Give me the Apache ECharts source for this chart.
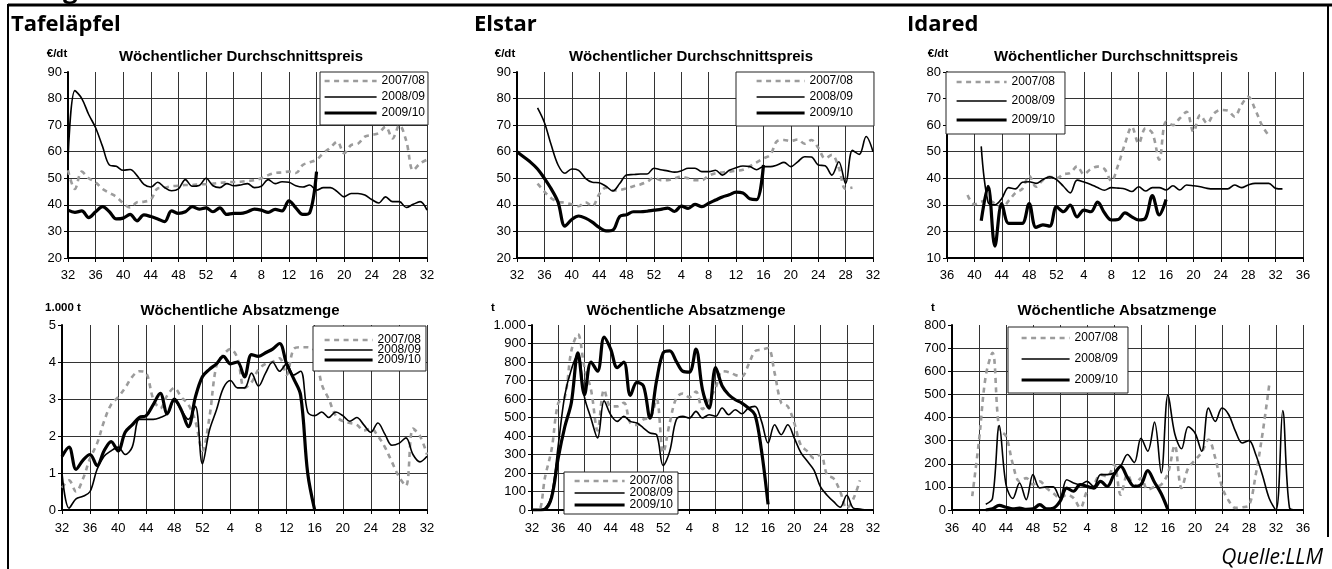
<!DOCTYPE html>
<html><head><meta charset="utf-8">
<script src="https://cdn.jsdelivr.net/npm/echarts@6/dist/echarts.min.js"></script>
<style>html,body{margin:0;padding:0;background:#fff}#c{width:1332px;height:569px}</style>
</head><body><div id="c"></div><script>
// ---- categories (calendar weeks) ----
const weeksTE = [32,33,34,35,36,37,38,39,40,41,42,43,44,45,46,47,48,49,50,51,52,1,2,3,4,5,6,7,8,9,10,11,12,13,14,15,16,17,18,19,20,21,22,23,24,25,26,27,28,29,30,31,32];
const weeksI = [36,37,38,39,40,41,42,43,44,45,46,47,48,49,50,51,52,1,2,3,4,5,6,7,8,9,10,11,12,13,14,15,16,17,18,19,20,21,22,23,24,25,26,27,28,29,30,31,32,33,34,35,36];
const seriesNames = ['2007/08','2008/09','2009/10'];

// ---- Tafeläpfel price (€/dt) ----
const tafelPrice0708 = [53,46,52.5,50,48.5,46,44.5,43,40.6,39,41,41.2,42,46.2,46.5,47,47.2,47.5,47.5,47.7,47.8,48,48.3,48.5,48.6,48.7,49,49.3,50,51.2,52,52.2,52.5,52,55,56,57,59.5,61.5,63.8,59.4,62.5,63,65.7,66.3,67,69.4,65,70,64,53,55.6,57];
const tafelPrice0809 = [57,83,80,74,69,62,55,54.5,53,53.3,51,47.7,46.7,48.5,46.5,45.3,46,49.5,47,47.3,50,47.2,46.5,48,47.2,47.5,48,46.5,47,49.5,48,48.7,48.5,47.2,46.7,47.5,45.5,46.5,46.5,45,43,44.3,44.3,43.7,42,40.7,43,41.2,41.2,39,40.2,41.2,38];
const tafelPrice0910 = [38,37.2,37.7,35.2,37.4,39.3,37.4,34.7,35,36.4,34,36.2,35.6,34.7,33.7,37.7,36.8,37.4,39.3,38.4,38.9,37.4,38.9,36.4,36.8,36.8,37.4,38.4,38,37.2,38.3,37.7,41.5,38.9,36.4,37,52.5];
// ---- Elstar price (€/dt) ----
const elstarPrice0708 = [null,null,null,48,45,42.5,41.2,40.8,40.2,39.5,41,39.5,44,46.5,45.4,45.6,46.2,47,47.7,48.7,50.2,49.3,49.3,50,50.6,50,49.3,49.3,51,51.9,52.2,52.5,52.8,53.2,54.5,56,57.5,58.8,64,64.4,64,64.6,63,64.4,61.5,57.5,58.8,54,46,46.5];
const elstarPrice0809 = [null,null,null,76.5,71,62.5,55,51.9,53.5,53,50,48.5,48.3,47,45.2,48,51.2,51.4,51.6,51.6,53.8,53.2,52.8,52.3,52.8,53.8,53.8,52.5,52.5,53,51.2,53,54,54.6,54.4,53.2,54.4,54.4,55,56,54.4,56.2,58.1,58,55,54.7,51.2,56.2,48,60.5,59,65.7,60];
const elstarPrice0910 = [60,58,56,53.5,50,46,41,32,34.5,35.8,35,33.5,31.5,30.2,30.5,35.6,36.3,37.4,37.4,37.6,38,38.3,38.8,37.5,39.5,38.7,40.2,39.3,40.6,41.8,43,43.8,44.8,44.5,42.3,42,55];
// ---- Idared price (€/dt) ----
const idaredPrice0708 = [null,null,null,33.7,30.2,31.2,31.8,30.5,29,31.5,34.5,36,41,36.8,39.3,40.6,40,41.5,42,44.5,41.5,43.5,44.4,43.5,39,45,53,59.4,53.1,58.8,57,47,61.3,60,62.6,65,57.5,63.8,60.7,64.4,65.7,65.5,63.2,67.6,70.7,66,60,56];
const idaredPrice0809 = [null,null,null,null,null,52,31,30,32.4,36.5,36,38.5,38.7,38.1,39.5,40.6,39.5,37,34.5,39.3,38.6,37.7,36.5,35.5,36.5,36.3,36,35,36.8,35.2,36.5,36.5,35.6,37.2,35.6,37.5,37.2,36.8,36.2,36,36,36,37.5,36.5,37.5,38.1,38.1,38.1,36.2,36];
const idaredPrice0910 = [null,null,null,null,null,24,37,14.5,30.5,23,23,23,30.5,21.5,22.5,22,29.3,27.4,29.9,25.5,28,27.4,31,27,24.3,24.5,27,25.5,24.3,25,33.5,26.2,32];
// ---- Tafeläpfel volume (1.000 t) ----
const tafelVol0708 = [0.6,0.8,0.5,0.85,1.4,1.8,2.4,2.85,3.05,3.3,3.6,3.75,3.7,3.0,2.75,3.1,3.3,3.05,2.85,2.4,1.6,2.5,3.9,4.2,4.35,4.1,3.3,3.45,3.8,3.95,4.0,4.1,3.65,4.35,4.4,4.4,4.3,3.4,3.0,2.55,2.4,2.35,2.3,2.15,2.2,2.0,1.7,1.3,0.9,0.65,2.2,2.0,1.5];
const tafelVol0809 = [1.0,0.05,0.3,0.37,0.5,1.1,1.45,1.6,1.7,1.5,1.7,2.45,2.45,2.45,2.5,2.6,2.95,2.7,2.45,2.8,1.25,2.15,2.7,3.3,3.5,3.3,3.3,3.7,3.35,3.7,4.0,3.75,3.95,3.65,3.75,2.65,2.55,2.65,2.5,2.65,2.55,2.4,2.5,2.3,2.1,2.35,2.05,1.75,1.8,1.95,1.5,1.3,1.45];
const tafelVol0910 = [1.45,1.7,1.1,1.35,1.5,1.2,1.6,1.85,1.6,2.1,2.3,2.5,2.55,2.85,3.15,2.6,3,2.7,2.25,3.05,3.6,3.8,3.95,4.15,3.95,4,3.6,4.2,4.15,4.25,4.35,4.5,3.95,3.55,3.1,1.0,0];
// ---- Elstar volume (t) ----
const elstarVol0708 = [0,0,180,330,578,610,860,950,770,650,430,650,560,560,580,470,460,490,497,600,310,470,605,630,610,640,545,600,660,750,745,730,722,785,858,867,876,740,580,560,470,350,317,280,300,190,170,100,10,60,160];
const elstarVol0809 = [0,0,10,83,350,620,760,840,610,495,389,590,515,479,506,479,470,443,416,407,240,317,488,506,497,533,497,515,506,551,515,542,520,551,560,479,362,461,407,461,389,310,263,215,125,80,45,15,80,10,5,0];
const elstarVol0910 = [0,0,5,70,281,450,580,850,623,800,750,935,870,770,800,620,690,670,497,700,849,860,804,750,745,870,650,551,770,670,623,596,578,551,515,320,30];
// ---- Idared volume (t) ----
const idaredVol0708 = [null,null,null,60,300,580,680,350,320,200,124,138,110,124,95,73,52,66,52,9,81,110,153,145,196,66,153,102,138,88,100,110,160,280,95,182,215,250,305,225,100,40,9,12,20,153,330,542];
const idaredVol0809 = [null,null,null,null,null,25,50,365,110,50,117,45,153,95,100,100,52,131,117,110,124,102,153,153,160,190,240,205,310,254,380,160,498,330,265,360,333,254,441,383,441,412,340,290,300,240,150,50,0,430,9,0];
const idaredVol0910 = [null,null,null,null,null,0,5,20,12,5,8,3,5,23,5,8,37,95,81,110,102,95,124,102,153,189,140,102,110,170,120,70,0];

const FONT = '"Liberation Sans", Arial, sans-serif';
const panels = [
  {grid:{left:68,top:72,width:359,height:186}, cats:weeksTE, y:[20,90,10], m:11, data:[tafelPrice0708,tafelPrice0809,tafelPrice0910],
   lg:{left:320,top:72,padding:[2,3,5,3],iw:52,lh:14,gap:2}},
  {grid:{left:517,top:72,width:356,height:186}, cats:weeksTE, y:[20,90,10], m:11, data:[elstarPrice0708,elstarPrice0809,elstarPrice0910],
   lg:{left:736,top:72,padding:[2,21,6,19],iw:48,lh:14,gap:2}},
  {grid:{left:947,top:72,width:356,height:186}, cats:weeksI, y:[10,80,10], m:11, data:[idaredPrice0708,idaredPrice0809,idaredPrice0910],
   lg:{left:946,top:72,padding:[3,10,7,9],iw:50,lh:14,gap:5}},
  {grid:{left:62,top:325,width:365,height:185}, cats:weeksTE, y:[0,5,1], m:12, data:[tafelVol0708,tafelVol0809,tafelVol0910],
   lg:{left:313,top:326,padding:[8,5,5,10],iw:48,lh:9.5,gap:-2}},
  {grid:{left:532,top:325,width:341,height:185}, cats:weeksTE, y:[0,1000,100], m:12, data:[elstarVol0708,elstarVol0809,elstarVol0910],
   lg:{left:564,top:472,padding:[3,5,3,9],iw:50,lh:11,gap:0}},
  {grid:{left:952,top:325,width:351,height:185}, cats:weeksI, y:[0,800,100], m:12, data:[idaredVol0708,idaredVol0809,idaredVol0910],
   lg:{left:1008,top:327,padding:[4,10,6,12],iw:48,lh:14,gap:7}}
];
const styles = [
  {color:'#9c9c9c', width:2.6, type:[5,4.5]},
  {color:'#000', width:1.6, type:'solid'},
  {color:'#000', width:3.2, type:'solid'}
];
const fmtNum = v => v >= 1000 ? String(v).replace(/(\d)(?=(\d{3})+$)/g,'$1.') : String(v);

const grid=[], xAxis=[], yAxis=[], series=[], legend=[];
panels.forEach((p,k)=>{
  grid.push(p.grid);
  xAxis.push({type:'category', gridIndex:k, data:p.cats, boundaryGap:false,
    axisLine:{show:true, onZero:false, lineStyle:{color:'#000', width:2}},
    axisTick:{show:true, interval:3, length:4, lineStyle:{color:'#000', width:1}},
    axisLabel:{interval:3, fontSize:13, color:'#000', fontFamily:FONT, margin:p.m},
    splitLine:{show:true, interval:3, lineStyle:{color:'#333', width:1}}});
  yAxis.push({type:'value', gridIndex:k, min:p.y[0], max:p.y[1], interval:p.y[2],
    axisLine:{show:true, lineStyle:{color:'#000', width:2}},
    axisTick:{show:true, length:4, lineStyle:{color:'#000', width:1}},
    axisLabel:{fontSize:13, color:'#000', fontFamily:FONT, margin:6, formatter:fmtNum},
    splitLine:{show:true, showMaxLine:false, lineStyle:{color:'#333', width:1}}});
  p.data.forEach((arr,j)=>{
    series.push({type:'line', name:seriesNames[j], xAxisIndex:k, yAxisIndex:k, data:arr,
      symbol:'none', showSymbol:false, smooth:0.35, connectNulls:false, animation:false, z:2+j,
      lineStyle:styles[j], itemStyle:{color:styles[j].color}});
  });
  legend.push({orient:'vertical', left:p.lg.left, top:p.lg.top, padding:p.lg.padding,
    itemWidth:p.lg.iw, itemHeight:p.lg.lh, itemGap:p.lg.gap, selectedMode:false,
    backgroundColor:'#fff', borderColor:'#222', borderWidth:1, borderRadius:0, z:20,
    itemStyle:{opacity:0, borderWidth:0},
    lineStyle:{width:'inherit', type:'inherit', color:'inherit'},
    textStyle:{fontFamily:FONT, fontSize:12, color:'#000', lineHeight:p.lg.lh},
    data:seriesNames});
});

const txt = (text,x,y,font,align)=>({type:'text', x:x, y:y, z:30,
  style:{text:text, font:font, fill:'#000', align:align||'center', verticalAlign:'middle', textAlign:align||'center', textVerticalAlign:'middle'}});
const H = 'bold 22px "Open Sans", "Noto Sans", sans-serif';
const S = 'bold 15px "Liberation Sans", Arial, sans-serif';
const U = 'bold 11.5px "Liberation Sans", Arial, sans-serif';
const graphic = [
  {type:'text', x:63, y:-22, z:29, style:{text:'g', font:'bold 26px "Open Sans", sans-serif', fill:'#000', align:'left', verticalAlign:'top'}},
  {type:'line', z:30, shape:{x1:8,y1:5,x2:1332,y2:5}, style:{stroke:'#000', lineWidth:3}},
  {type:'line', z:30, shape:{x1:8,y1:4,x2:8,y2:569}, style:{stroke:'#000', lineWidth:2}},
  {type:'line', z:30, shape:{x1:1328,y1:4,x2:1328,y2:537}, style:{stroke:'#000', lineWidth:2}},
  txt('Tafeläpfel',11,25,H,'left'), txt('Elstar',474,25,H,'left'), txt('Idared',907,25,H,'left'),
  txt('Wöchentlicher Durchschnittspreis',241,57,S), txt('Wöchentlicher Durchschnittspreis',691,57,S), txt('Wöchentlicher Durchschnittspreis',1116,57,S),
  txt('Wöchentliche Absatzmenge',240,311,S), txt('Wöchentliche Absatzmenge',686,311,S), txt('Wöchentliche Absatzmenge',1117,311,S),
  txt('€/dt',57,54,U), txt('€/dt',505,54,U), txt('€/dt',938,54,U),
  txt('1.000 t',63,308,U), txt('t',493,308,U), txt('t',933,308,U),
  txt('Quelle:LLM',1323,558,'italic 21px "Open Sans", sans-serif','right')
];

const chart = echarts.init(document.getElementById('c'), null, {renderer:'canvas'});
chart.setOption({animation:false, backgroundColor:'#fff', grid, xAxis, yAxis, series, legend, graphic});
</script></body></html>
